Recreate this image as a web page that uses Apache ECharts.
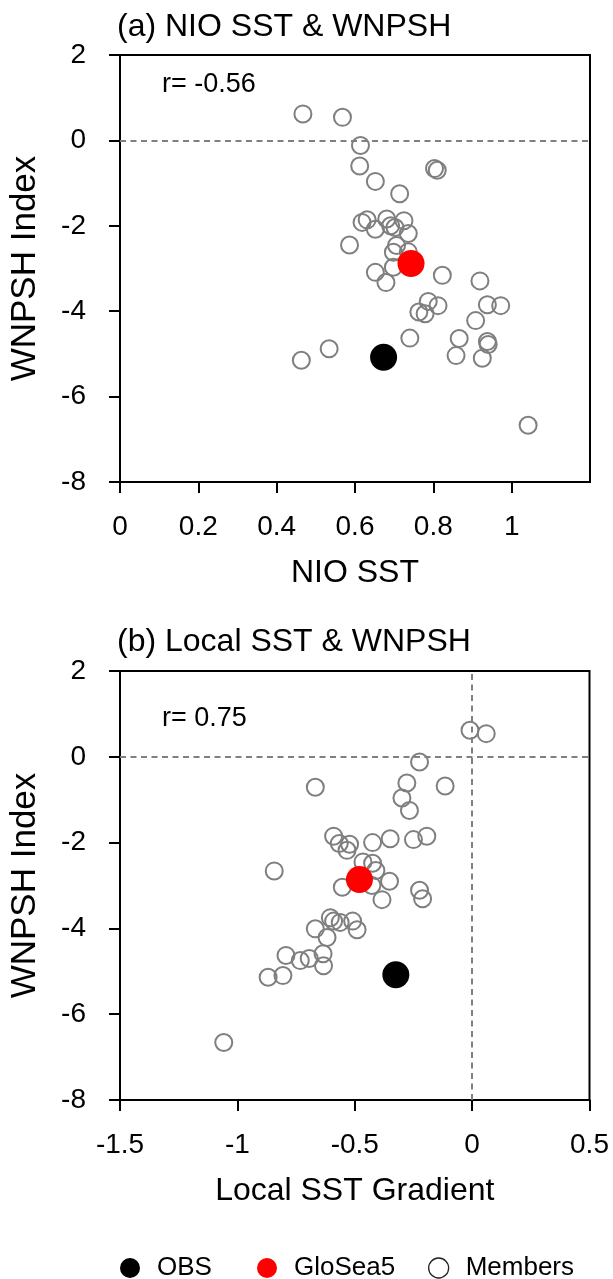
<!DOCTYPE html>
<html>
<head>
<meta charset="utf-8">
<script src="https://cdn.jsdelivr.net/npm/echarts@6/dist/echarts.min.js"></script>
<style>
  html, body { margin: 0; padding: 0; background: #fff; }
  #chart { width: 613px; height: 1279px; }
</style>
</head>
<body>
<div id="chart"></div>
<script>
// panel (a): NIO SST vs WNPSH index
const nioMembers = [
  [0.467, 0.62], [0.568, 0.54], [0.614, -0.12], [0.612, -0.60], [0.652, -0.96],
  [0.714, -1.25], [0.803, -0.66], [0.810, -0.70], [0.618, -1.92], [0.631, -1.86],
  [0.681, -1.84], [0.691, -2.00], [0.702, -2.04], [0.725, -1.88], [0.652, -2.08],
  [0.736, -2.18], [0.586, -2.45], [0.706, -2.46], [0.698, -2.62], [0.736, -2.61],
  [0.698, -2.97], [0.652, -3.09], [0.823, -3.16], [0.919, -3.29], [0.679, -3.33],
  [0.787, -3.77], [0.812, -3.87], [0.763, -4.02], [0.779, -4.06], [0.938, -3.85],
  [0.972, -3.87], [0.908, -4.22], [0.740, -4.63], [0.866, -4.64], [0.938, -4.71],
  [0.940, -4.78], [0.858, -5.04], [0.925, -5.10], [0.534, -4.88], [0.463, -5.15],
  [1.042, -6.67]
]
const nioGlosea = [[0.743, -2.88]]
const nioObs = [[0.673, -5.08]]

// panel (b): local SST gradient vs WNPSH index
const gradMembers = [
  [-0.009, 0.62], [0.060, 0.54], [-0.224, -0.12], [-0.115, -0.68], [-0.668, -0.71],
  [-0.278, -0.61], [-0.299, -0.96], [-0.267, -1.25], [-0.590, -1.85], [-0.566, -2.02],
  [-0.522, -2.04], [-0.533, -2.18], [-0.424, -2.00], [-0.349, -1.91], [-0.250, -1.93],
  [-0.193, -1.85], [-0.843, -2.66], [-0.465, -2.45], [-0.424, -2.48], [-0.410, -2.65],
  [-0.352, -2.90], [-0.553, -3.04], [-0.224, -3.11], [-0.427, -3.00], [-0.384, -3.33],
  [-0.211, -3.31], [-0.604, -3.75], [-0.590, -3.83], [-0.562, -3.86], [-0.509, -3.83],
  [-0.490, -4.03], [-0.668, -4.01], [-0.618, -4.21], [-0.793, -4.63], [-0.732, -4.75],
  [-0.694, -4.70], [-0.635, -4.59], [-0.633, -4.87], [-0.869, -5.14], [-0.806, -5.10],
  [-1.058, -6.66]
]
const gradGlosea = [[-0.480, -2.86]]
const gradObs = [[-0.325, -5.08]]

const nioTicks = [0, 0.2, 0.4, 0.6, 0.8, 1]
const gradTicks = [-1.5, -1, -0.5, 0, 0.5]
const yTicks = [-8, -6, -4, -2, 0, 2]

const FONT = '"Liberation Sans", Arial, Helvetica, sans-serif'
const chart = echarts.init(document.getElementById('chart'))

const xAxisBase = (min, max, ticks, name, gridIndex) => ({
  type: 'value',
  gridIndex: gridIndex,
  min: min,
  max: max,
  name: name,
  nameLocation: 'middle',
  nameGap: 75,
  nameTextStyle: { color: '#000', fontSize: 32, fontFamily: FONT },
  splitLine: { show: false },
  axisLine: { show: true, onZero: false, lineStyle: { color: '#000', width: 2 } },
  axisTick: { show: true, inside: false, length: 11, customValues: ticks, lineStyle: { color: '#000', width: 2 } },
  axisLabel: { margin: 31, color: '#000', fontSize: 28, fontFamily: FONT, customValues: ticks }
})

const yAxisBase = (gridIndex) => ({
  type: 'value',
  gridIndex: gridIndex,
  min: -8,
  max: 2,
  interval: 2,
  name: 'WNPSH Index',
  nameLocation: 'middle',
  nameGap: 77,
  nameTextStyle: { color: '#000', fontSize: 35, fontFamily: FONT },
  splitLine: { show: false },
  axisLine: { show: true, onZero: false, lineStyle: { color: '#000', width: 2 } },
  axisTick: { show: true, inside: false, length: 11, customValues: yTicks, lineStyle: { color: '#000', width: 2 } },
  axisLabel: { margin: 34, color: '#000', fontSize: 28, fontFamily: FONT, customValues: yTicks }
})

const dashed = { color: '#808080', width: 2, type: [6, 4.5] }

const memberStyle = { color: 'rgba(0,0,0,0)', borderColor: '#7f7f7f', borderWidth: 2, opacity: 1 }

const legendText = { fontSize: 26, color: '#000', fontFamily: FONT, padding: [0, 0, 0, 12] }

const options = {
  animation: false,
  title: [
    { text: '(a) NIO SST & WNPSH', left: 117, top: 11, padding: 0,
      textStyle: { fontSize: 32, fontWeight: 'normal', color: '#000', fontFamily: FONT } },
    { text: '(b) Local SST & WNPSH', left: 117, top: 626, padding: 0,
      textStyle: { fontSize: 32, fontWeight: 'normal', color: '#000', fontFamily: FONT } }
  ],
  grid: [
    { left: 118.5, top: 55, width: 471.5, height: 427, show: true, borderColor: '#000', borderWidth: 2 },
    { left: 118.5, top: 671, width: 471, height: 429, show: true, borderColor: '#000', borderWidth: 2 }
  ],
  xAxis: [
    xAxisBase(0, 1.2, nioTicks, 'NIO SST', 0),
    xAxisBase(-1.5, 0.5, gradTicks, 'Local SST Gradient', 1)
  ],
  yAxis: [yAxisBase(0), yAxisBase(1)],
  legend: [
    { data: ['OBS'], left: 120, top: 1255, padding: 0, itemWidth: 20, itemHeight: 20,
      textStyle: legendText },
    { data: ['GloSea5'], left: 257, top: 1255, padding: 0, itemWidth: 20, itemHeight: 20,
      textStyle: legendText },
    { data: [{ name: 'Members', itemStyle: { color: '#fff', borderColor: '#222', borderWidth: 1.3 } }],
      left: 428, top: 1255, padding: 0, itemWidth: 20, itemHeight: 20,
      textStyle: legendText }
  ],
  graphic: [
    { type: 'text', left: 162, top: 71, style: { text: 'r= -0.56', font: '27px ' + FONT, fill: '#000' } },
    { type: 'text', left: 162, top: 705, style: { text: 'r= 0.75', font: '27px ' + FONT, fill: '#000' } }
  ],
  series: [
    {
      name: 'Members', type: 'scatter', xAxisIndex: 0, yAxisIndex: 0,
      symbol: 'circle', symbolSize: 17, itemStyle: memberStyle, z: 2,
      data: nioMembers,
      markLine: { silent: true, symbol: 'none', label: { show: false }, lineStyle: dashed,
        data: [{ yAxis: 0 }] }
    },
    { name: 'GloSea5', type: 'scatter', xAxisIndex: 0, yAxisIndex: 0,
      symbol: 'circle', symbolSize: 27, itemStyle: { color: '#ff0000', opacity: 1 }, z: 3, data: nioGlosea },
    { name: 'OBS', type: 'scatter', xAxisIndex: 0, yAxisIndex: 0,
      symbol: 'circle', symbolSize: 27, itemStyle: { color: '#000', opacity: 1 }, z: 4, data: nioObs },
    {
      name: 'Members', type: 'scatter', xAxisIndex: 1, yAxisIndex: 1,
      symbol: 'circle', symbolSize: 17, itemStyle: memberStyle, z: 2,
      data: gradMembers,
      markLine: { silent: true, symbol: 'none', label: { show: false }, lineStyle: dashed,
        data: [{ yAxis: 0 }, { xAxis: 0 }] }
    },
    { name: 'GloSea5', type: 'scatter', xAxisIndex: 1, yAxisIndex: 1,
      symbol: 'circle', symbolSize: 27, itemStyle: { color: '#ff0000', opacity: 1 }, z: 3, data: gradGlosea },
    { name: 'OBS', type: 'scatter', xAxisIndex: 1, yAxisIndex: 1,
      symbol: 'circle', symbolSize: 27, itemStyle: { color: '#000', opacity: 1 }, z: 4, data: gradObs }
  ]
}

chart.setOption(options, true)
</script>
</body>
</html>
